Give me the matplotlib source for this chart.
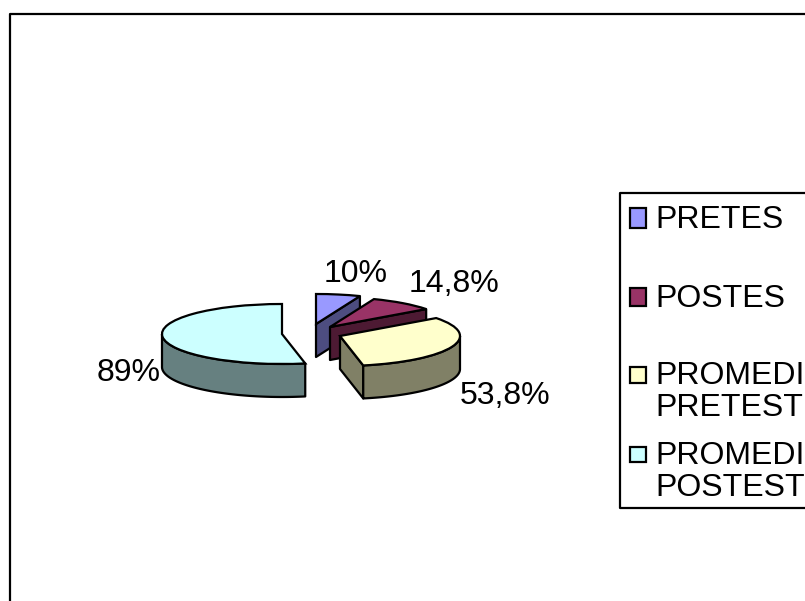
import numpy as np
import matplotlib
matplotlib.use("Agg")
import matplotlib.pyplot as plt
from matplotlib.patches import Polygon, Rectangle

plt.rcParams['font.family'] = ['Liberation Sans', 'DejaVu Sans']

categories = ["PRETES", "POSTES", "PROMEDI\nPRETEST", "PROMEDI\nPOSTEST"]
values = [10, 14.8, 53.8, 89]
value_labels = ["10%", "14,8%", "53,8%", "89%"]
top_colors = ["#9999FF", "#993366", "#FFFFCC", "#CCFFFF"]
side_colors = ["#4D4D80", "#4D1A33", "#808066", "#668080"]

W, H = 805, 601
RX, RY, DEPTH = 120.0, 30.0, 33.0
LW = 1.6
apex_px = [(316, 324), (330, 327), (340, 336), (282, 334)]
label_px = [(356, 274), (454, 284), (505, 396), (129, 373)]
legend_y = [(208, 228), (288, 306), (367, 383), (447, 462)]
legend_text_y = [220, 299, 392, 472]

fig = plt.figure(figsize=(W / 100, H / 100), dpi=100, facecolor="white")

# squashed pie axes: one data unit is RX px wide and RY px tall
pie_ax = fig.add_axes([0, 0, 1, 1])
wedges, _ = pie_ax.pie(values, colors=top_colors, startangle=90, counterclock=False,
                       wedgeprops=dict(edgecolor="black", linewidth=LW))
pie_ax.set_aspect("auto")
pie_ax.set_xlim(0, W / RX)
pie_ax.set_ylim(0, H / RY)
pie_ax.axis("off")

d = DEPTH / RY
for i, (w, (px, py)) in enumerate(zip(wedges, apex_px)):
    cx, cy = px / RX, (H - py) / RY
    w.set_center((cx, cy))
    w.set_zorder(10 * i + 5)
    t1, t2 = np.radians(w.theta1), np.radians(w.theta2)
    faces = []
    if np.cos(t1) > 1e-6:
        faces.append(t1)
    if np.cos(t2) < -1e-6:
        faces.append(t2)
    for t in faces:
        ex, ey = cx + np.cos(t), cy + np.sin(t)
        pie_ax.add_patch(Polygon([(cx, cy), (ex, ey), (ex, ey - d), (cx, cy - d)],
                                 facecolor=side_colors[i], edgecolor="black",
                                 linewidth=LW, joinstyle="round", zorder=10 * i + 1))
    t = np.linspace(t1, t2, 500)
    t = t[np.sin(t) < 0]
    if t.size:
        xs, ys = cx + np.cos(t), cy + np.sin(t)
        pts = np.r_[np.c_[xs, ys], np.c_[xs, ys - d][::-1]]
        pie_ax.add_patch(Polygon(pts, facecolor=side_colors[i], edgecolor="black",
                                 linewidth=LW, joinstyle="round", zorder=10 * i + 2))

# overlay in pixel coordinates for frame, labels and legend
ov = fig.add_axes([0, 0, 1, 1], facecolor="none")
ov.set_xlim(0, W)
ov.set_ylim(H, 0)
ov.axis("off")
ov.plot([9.5, 9.5, W + 5], [H + 5, 13.5, 13.5], color="black", lw=LW)
ov.plot([W + 5, 620, 620, W + 5], [193, 193, 508, 508], color="black", lw=LW)

FS = 23
for s, (x, y) in zip(value_labels, label_px):
    ov.text(x, y, s, fontsize=FS, ha="center", va="center", color="black")
for c, name, (y0, y1), ty in zip(top_colors, categories, legend_y, legend_text_y):
    ov.add_patch(Rectangle((630, y0), 16, y1 - y0, facecolor=c, edgecolor="black", linewidth=LW))
    ov.text(655, ty, name, fontsize=FS, ha="left", va="center", color="black",
            linespacing=1.06, clip_on=True)

fig.savefig("out.png", dpi=100, facecolor="white")
